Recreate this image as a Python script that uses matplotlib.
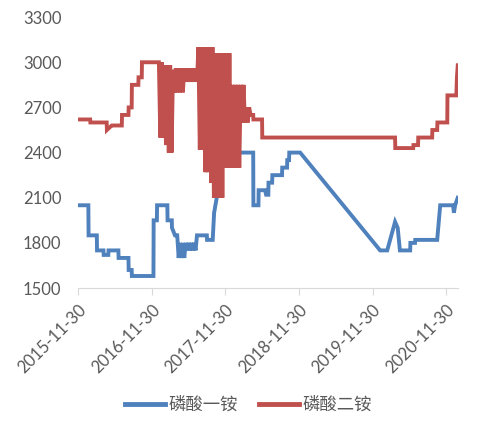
import numpy as np
import pandas as pd
import matplotlib
matplotlib.use('Agg')
import matplotlib.pyplot as plt

plt.rcParams['font.family'] = ['Lato', 'Noto Sans CJK SC', 'DejaVu Sans']

# 磷酸一铵 (blue)
blue_dates = ['2015-11-30', '2016-01-20', '2016-01-21', '2016-03-02', '2016-03-03', '2016-04-04',
              '2016-04-05', '2016-04-28', '2016-04-29', '2016-06-17', '2016-06-18', '2016-08-06',
              '2016-08-07', '2016-08-22', '2016-08-23', '2016-12-08', '2016-12-09', '2016-12-25',
              '2016-12-26', '2017-02-15', '2017-02-16', '2017-03-09', '2017-03-10', '2017-03-25',
              '2017-04-05', '2017-04-12', '2017-04-19', '2017-04-26', '2017-05-03', '2017-05-10',
              '2017-05-17', '2017-05-24', '2017-05-31', '2017-06-07', '2017-06-14', '2017-06-21',
              '2017-06-28', '2017-07-05', '2017-07-12', '2017-08-30', '2017-08-31', '2017-09-28',
              '2017-10-05', '2017-10-18', '2017-11-08', '2017-11-20', '2018-04-17', '2018-04-18',
              '2018-05-13', '2018-05-14', '2018-06-15', '2018-06-20', '2018-07-01', '2018-07-02',
              '2018-07-20', '2018-07-21', '2018-09-07', '2018-09-08', '2018-10-02', '2018-10-03',
              '2018-10-12', '2018-10-13', '2018-12-06', '2020-01-07', '2020-02-11', '2020-03-21',
              '2020-04-03', '2020-04-14', '2020-06-04', '2020-06-05', '2020-06-28', '2020-06-29',
              '2020-10-16', '2020-10-31', '2021-01-03', '2021-01-07', '2021-01-13', '2021-01-26']
blue_vals = [2050, 2050, 1850, 1850, 1750, 1750,
             1720, 1720, 1750, 1750, 1700, 1700,
             1620, 1620, 1580, 1580, 1950, 1950,
             2050, 2050, 1950, 1950, 1900, 1850,
             1850, 1700, 1800, 1700, 1800, 1700,
             1800, 1750, 1800, 1750, 1800, 1750,
             1800, 1750, 1850, 1850, 1820, 1820,
             2000, 2100, 2300, 2400, 2400, 2050,
             2050, 2150, 2150, 2120, 2120, 2200,
             2200, 2250, 2250, 2300, 2300, 2350,
             2350, 2400, 2400, 1750, 1750, 1940,
             1900, 1750, 1750, 1800, 1800, 1820,
             1820, 2050, 2050, 2000, 2050, 2100]

# 磷酸二铵 (red)
red_dates = ['2015-11-30', '2016-01-29', '2016-01-30', '2016-04-20', '2016-04-21', '2016-05-15',
             '2016-05-16', '2016-07-04', '2016-07-05', '2016-08-06', '2016-08-07', '2016-08-22',
             '2016-08-23', '2016-09-24', '2016-09-25', '2016-10-11', '2016-10-12', '2017-01-02',
             '2017-01-04', '2017-01-11', '2017-01-18', '2017-01-25', '2017-02-01', '2017-02-08',
             '2017-02-15', '2017-02-22', '2017-03-01', '2017-03-08', '2017-03-15', '2017-03-22',
             '2017-03-29', '2017-04-05', '2017-04-12', '2017-04-19', '2017-04-26', '2017-05-03',
             '2017-05-10', '2017-05-17', '2017-05-24', '2017-05-31', '2017-06-07', '2017-06-14',
             '2017-06-21', '2017-06-28', '2017-07-05', '2017-07-12', '2017-07-19', '2017-07-26',
             '2017-08-02', '2017-08-09', '2017-08-16', '2017-08-23', '2017-08-30', '2017-09-06',
             '2017-09-13', '2017-09-20', '2017-09-27', '2017-10-04', '2017-10-11', '2017-10-18',
             '2017-10-25', '2017-11-01', '2017-11-08', '2017-11-15', '2017-11-22', '2017-11-29',
             '2017-12-06', '2017-12-13', '2017-12-20', '2017-12-27', '2018-01-03', '2018-01-10',
             '2018-01-17', '2018-01-24', '2018-01-31', '2018-02-07', '2018-02-14', '2018-02-21',
             '2018-02-28', '2018-03-07', '2018-03-14', '2018-03-21', '2018-03-28', '2018-04-04',
             '2018-04-17', '2018-04-18', '2018-05-31', '2018-06-01', '2020-03-21', '2020-03-22',
             '2020-06-19', '2020-06-20', '2020-07-13', '2020-07-14', '2020-09-21', '2020-09-22',
             '2020-10-16', '2020-10-17', '2020-12-05', '2020-12-06', '2021-01-19', '2021-01-22',
             '2021-01-26']
red_vals = [2620, 2620, 2600, 2600, 2550, 2580,
            2580, 2580, 2650, 2650, 2700, 2700,
            2850, 2850, 2900, 2900, 3000, 3000,
            3000, 2500, 3000, 2500, 2980, 2450,
            2980, 2400, 2980, 2400, 2950, 2800,
            2960, 2800, 2960, 2800, 2960, 2800,
            2960, 2870, 2960, 2870, 2960, 2870,
            2960, 2870, 2960, 2870, 3100, 2420,
            3100, 2420, 3100, 2270, 3100, 2270,
            3100, 2200, 3100, 2100, 3060, 2100,
            3060, 2100, 3060, 2100, 3060, 2300,
            3060, 2300, 3060, 2300, 2850, 2300,
            2850, 2300, 2850, 2300, 2850, 2600,
            2850, 2600, 2700, 2600, 2700, 2650,
            2650, 2620, 2620, 2500, 2500, 2430,
            2430, 2450, 2450, 2500, 2500, 2550,
            2550, 2600, 2600, 2780, 2780, 2900,
            2980]

blue_x = pd.to_datetime(blue_dates)
red_x = pd.to_datetime(red_dates)

fig = plt.figure(figsize=(4.88, 4.28), dpi=100)
ax = fig.add_axes([0.160, 0.327, 0.778, 0.633])

ax.plot(blue_x, blue_vals, color='#4F81BD', lw=2.8, solid_joinstyle='miter', label='磷酸一铵')
ax.plot(red_x, red_vals, color='#C0504D', lw=2.8, solid_joinstyle='miter', label='磷酸二铵')

ax.set_ylim(1500, 3300)
ax.set_yticks(np.arange(1500, 3301, 300))
ax.set_xlim(pd.Timestamp('2015-11-30'), pd.Timestamp('2021-01-26'))
xt = pd.to_datetime(['2015-11-30', '2016-11-30', '2017-11-30', '2018-11-30', '2019-11-30', '2020-11-30'])
ax.set_xticks(xt)
ax.set_xticklabels([d.strftime('%Y-%m-%d') for d in xt], rotation=45, ha='right',
                   va='top', rotation_mode='anchor')

for s in ['top', 'right', 'left']:
    ax.spines[s].set_visible(False)
ax.spines['bottom'].set_color('#d9d9d9')
ax.tick_params(axis='x', length=5, color='#d9d9d9', labelsize=12, labelcolor='#595959', pad=5)
ax.tick_params(axis='y', length=0, labelsize=12, labelcolor='#595959', pad=12)

leg = fig.legend(loc='center', bbox_to_anchor=(0.509, 0.054), ncol=2, frameon=False,
                 handlelength=2.3, columnspacing=1.2, handletextpad=0.2,
                 prop={'family': ['Noto Sans CJK SC'], 'size': 12.5})
for t in leg.get_texts():
    t.set_color('#595959')
for l in leg.get_lines():
    l.set_linewidth(3.5)

fig.savefig('out.png', dpi=100)
